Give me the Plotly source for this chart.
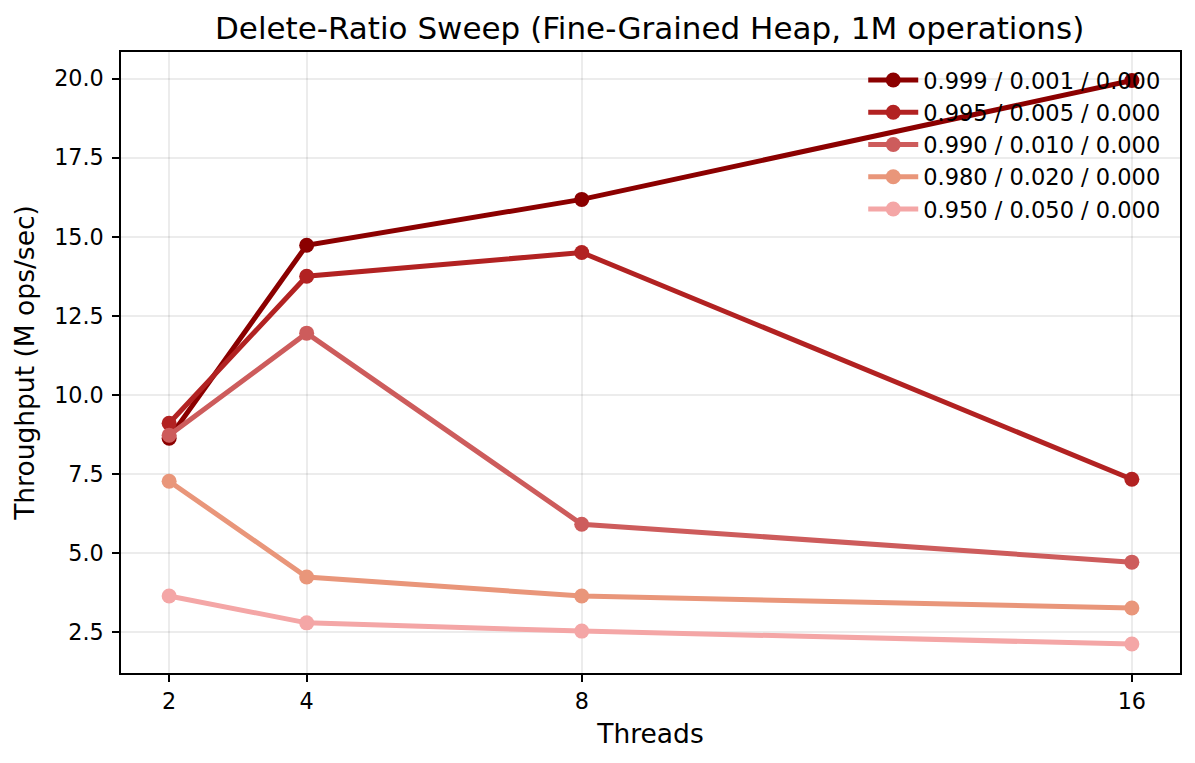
import plotly.graph_objects as go

threads = [2, 4, 8, 16]
labels = ["0.999 / 0.001 / 0.000", "0.995 / 0.005 / 0.000", "0.990 / 0.010 / 0.000",
          "0.980 / 0.020 / 0.000", "0.950 / 0.050 / 0.000"]
s999 = [8.63, 14.73, 16.18, 19.94]
s995 = [9.10, 13.75, 14.50, 7.33]
s990 = [8.72, 11.95, 5.91, 4.71]
s980 = [7.27, 4.24, 3.64, 3.26]
s950 = [3.64, 2.79, 2.53, 2.12]
series = [s999, s995, s990, s980, s950]
colors = ["#8B0000", "#B22222", "#CD5C5C", "#E9967A", "#F4A6A6"]
yticks = [2.5, 5.0, 7.5, 10.0, 12.5, 15.0, 17.5, 20.0]

FONT = "DejaVu Sans"
fig = go.Figure()
for name, ys, c in zip(labels, series, colors):
    fig.add_trace(go.Scatter(x=threads, y=ys, name=name, mode="lines+markers",
                             line=dict(color=c, width=5),
                             marker=dict(color=c, size=15)))

fig.update_layout(
    width=1195, height=763,
    margin=dict(l=121, r=15, t=52, b=90),
    paper_bgcolor="white", plot_bgcolor="white",
    font=dict(family=FONT, color="black", size=22),
    title=dict(text="Delete-Ratio Sweep (Fine-Grained Heap, 1M operations)",
               x=0.5436, xanchor="center", y=0.963, yanchor="middle",
               font=dict(size=31, family=FONT)),
    showlegend=True,
    legend=dict(x=0.987, y=0.989, xanchor="right", yanchor="top", itemwidth=50,
                bgcolor="rgba(0,0,0,0)", font=dict(size=22.5, family=FONT)),
)
fig.update_xaxes(range=[1.3, 16.7], tickvals=threads, ticktext=[str(t) for t in threads],
                 showline=True, linecolor="black", linewidth=1.5, mirror=True,
                 ticks="outside", ticklen=7, tickcolor="black", tickwidth=1.5,
                 showgrid=True, gridcolor="rgba(0,0,0,0.075)", gridwidth=1.6,
                 zeroline=False, tickfont=dict(size=22.3),
                 title=dict(text="Threads", font=dict(size=26.5), standoff=12))
fig.update_yaxes(range=[1.205, 20.84], tickvals=yticks, ticktext=[f"{v:.1f}" for v in yticks],
                 showline=True, linecolor="black", linewidth=1.5, mirror=True,
                 ticks="outside", ticklen=7, tickcolor="black", tickwidth=1.5,
                 showgrid=True, gridcolor="rgba(0,0,0,0.075)", gridwidth=1.6,
                 zeroline=False, tickfont=dict(size=22.3), ticklabelstandoff=4,
                 title=dict(text="Throughput (M ops/sec)", font=dict(size=26.5), standoff=12))
fig.write_html("out.html")
